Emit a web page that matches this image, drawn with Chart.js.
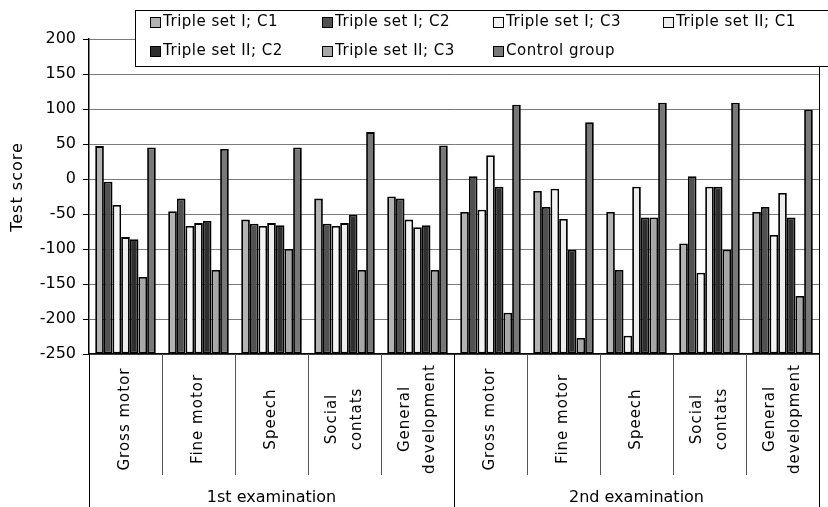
<!DOCTYPE html>
<html>
<head>
<meta charset="utf-8">
<script src="https://cdn.jsdelivr.net/npm/chart.js@4.4.1/dist/chart.umd.min.js"></script>
<style>
  html, body { margin: 0; padding: 0; background: #fff; }
  canvas { display: block; }
</style>
</head>
<body>
<canvas id="c" width="828" height="507"></canvas>
<script>
// Development areas (each line of a wrapped label is its own entry)
const categories = [
  ['Gross motor'], ['Fine motor'], ['Speech'], ['Social', 'contats'], ['General', 'development'],
  ['Gross motor'], ['Fine motor'], ['Speech'], ['Social', 'contats'], ['General', 'development']
];
const examinations = ['1st examination', '2nd examination'];
const seriesNames = [
  'Triple set I; C1', 'Triple set I; C2', 'Triple set I; C3', 'Triple set II; C1',
  'Triple set II; C2', 'Triple set II; C3', 'Control group'
];

// Test scores per area
const tripleSetI_C1  = [47, -46, -58, -28, -25, -47, -17, -47, -92, -47];
const tripleSetI_C2  = [-4, -28, -64, -64, -28, 4, -40, -130, 4, -40];
const tripleSetI_C3  = [-37, -67, -67, -67, -58, -44, -14, -224, -134, -80];
const tripleSetII_C1 = [-83, -63, -63, -63, -69, 34, -57, -11, -11, -20];
const tripleSetII_C2 = [-86, -60, -66, -51, -66, -11, -101, -55, -11, -55];
const tripleSetII_C3 = [-140, -130, -100, -130, -130, -191, -227, -55, -101, -167];
const controlGroup   = [45, 43, 45, 67, 48, 106, 81, 109, 109, 99];

const yTicks = [200, 150, 100, 50, 0, -50, -100, -150, -200, -250];

const seriesValues = [tripleSetI_C1, tripleSetI_C2, tripleSetI_C3, tripleSetII_C1,
                      tripleSetII_C2, tripleSetII_C3, controlGroup];
const seriesColors = ['#b3b3b3', '#515151', '#f4f4f4', '#ededed', '#2f2f2f', '#a7a7a7', '#787878'];

const FONT = '"DejaVu Sans", sans-serif';
const yMin = yTicks[yTicks.length - 1];
const yMax = yTicks[0];

const datasets = seriesNames.map((name, i) => ({
  label: name,
  data: seriesValues[i],
  base: yMin,
  backgroundColor: seriesColors[i],
  borderColor: '#000',
  borderWidth: 1.8,
  borderSkipped: false,
  categoryPercentage: 0.83,
  barPercentage: 1.0
}));

// Category labels, group labels, separators, axis title and legend
const decorations = {
  id: 'decorations',
  afterDraw(chart) {
    const ctx = chart.ctx;
    const area = chart.chartArea;
    const n = categories.length;
    const w = (area.right - area.left) / n;
    ctx.save();

    // right edge of the plot frame
    ctx.strokeStyle = '#000';
    ctx.lineWidth = 1;
    ctx.beginPath();
    ctx.moveTo(area.right + 0.5, area.top);
    ctx.lineTo(area.right + 0.5, chart.height);
    ctx.stroke();

    // category separators below the axis
    for (let i = 0; i <= n; i++) {
      const x = Math.round(area.left + i * w) + 0.5;
      const full = (i % (n / examinations.length) === 0);
      ctx.strokeStyle = full ? '#000' : '#555';
      ctx.beginPath();
      ctx.moveTo(x, area.bottom);
      ctx.lineTo(x, full ? chart.height : area.bottom + 121);
      ctx.stroke();
    }

    // rotated category labels
    ctx.fillStyle = '#000';
    ctx.font = '15px ' + FONT;
    ctx.textAlign = 'center';
    ctx.textBaseline = 'middle';
    const lineGap = 25;
    categories.forEach((lines, i) => {
      const cx = chart.scales.x.getPixelForValue(i);
      lines.forEach((txt, j) => {
        const off = (j - (lines.length - 1) / 2) * lineGap;
        ctx.save();
        ctx.translate(cx + off, area.bottom + 65);
        ctx.rotate(-Math.PI / 2);
        ctx.letterSpacing = '1px';
        ctx.fillText(txt, 0, 0);
        ctx.restore();
      });
    });

    // examination group labels
    const per = n / examinations.length;
    ctx.font = '16px ' + FONT;
    examinations.forEach((txt, g) => {
      const x0 = area.left + g * per * w;
      const x1 = x0 + per * w;
      ctx.fillText(txt, (x0 + x1) / 2, 498);
    });

    // value axis title
    ctx.save();
    ctx.translate(18, 187);
    ctx.rotate(-Math.PI / 2);
    ctx.font = '16px ' + FONT;
    ctx.letterSpacing = '1px';
    ctx.fillText('Test score', 0, 0);
    ctx.restore();

    // legend box
    const lx = 135, ly = 10, lh = 56;
    ctx.fillStyle = '#fff';
    ctx.fillRect(lx, ly, chart.width - lx + 5, lh);
    ctx.strokeStyle = '#000';
    ctx.lineWidth = 1;
    ctx.strokeRect(lx + 0.5, ly + 0.5, chart.width - lx + 5, lh);
    const colX = [150, 322, 493, 663];
    const rowY = [22, 51];
    ctx.font = '15px ' + FONT;
    ctx.letterSpacing = '0.5px';
    ctx.textAlign = 'left';
    seriesNames.forEach((name, i) => {
      const x = colX[i % 4];
      const y = rowY[Math.floor(i / 4)];
      ctx.fillStyle = seriesColors[i];
      ctx.fillRect(x, y - 5, 10, 10);
      ctx.strokeStyle = '#000';
      ctx.strokeRect(x + 0.5, y - 4.5, 10, 10);
      ctx.fillStyle = '#000';
      ctx.fillText(name, x + 13, y);
    });

    ctx.restore();
  }
};

new Chart(document.getElementById('c'), {
  type: 'bar',
  data: {
    labels: categories.map(l => l.join(' ')),
    datasets
  },
  options: {
    responsive: false,
    animation: false,
    layout: { padding: { top: 39, right: 9, left: 0, bottom: 0 } },
    plugins: {
      legend: { display: false },
      tooltip: { enabled: false }
    },
    scales: {
      x: {
        offset: true,
        grid: { display: false },
        ticks: { display: false },
        border: { display: true, color: '#000', width: 1.5 },
        afterFit(scale) { scale.height = 153; }
      },
      y: {
        min: yMin,
        max: yMax,
        afterBuildTicks(scale) { scale.ticks = yTicks.map(v => ({ value: v })); },
        ticks: {
          color: '#000',
          font: { family: FONT, size: 16 },
          padding: 7
        },
        grid: {
          color: '#7a7a7a',
          lineWidth: 1,
          tickLength: 6,
          tickColor: '#000'
        },
        border: { display: true, color: '#000', width: 1.5 },
        afterFit(scale) { scale.width = 89; }
      }
    }
  },
  plugins: [decorations]
});
</script>
</body>
</html>
